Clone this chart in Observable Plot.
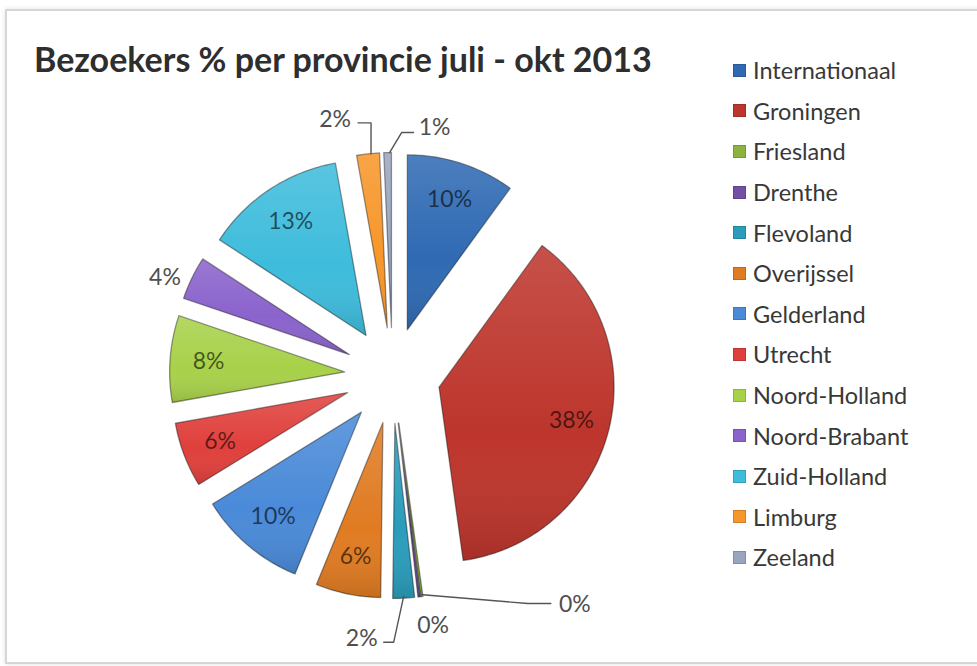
<!DOCTYPE html>
<html>
<head>
<meta charset="utf-8">
<script src="https://cdn.jsdelivr.net/npm/d3@7"></script>
<script src="https://cdn.jsdelivr.net/npm/@observablehq/plot@0.6"></script>
<style>
  body { margin: 0; background: #fff; font-family: Lato, "Open Sans", sans-serif; }
  #wrap { position: relative; width: 977px; height: 666px; overflow: hidden; background: #fff; }
  #frame { position: absolute; left: 5px; top: 9px; width: 1000px; height: 651px; border: 2px solid #d6d6d6; box-shadow: 0 0 5px rgba(0,0,0,0.12); }
  #chart { position: absolute; left: 0; top: 0; }
  #title { position: absolute; left: 34px; top: 42px; font: bold 34px Lato, sans-serif; color: #2e2e2e; white-space: nowrap; line-height: 1; }
  #legend { position: absolute; left: 733px; top: 50px; }
  .item { height: 40.6px; display: flex; align-items: center; font: 23.5px Lato, sans-serif; color: #383838; white-space: nowrap; }
  .sw { width: 13px; height: 13px; margin-right: 7px; box-shadow: inset 0 0 0 1px rgba(0,0,0,0.15); }
</style>
</head>
<body>
<div id="wrap">
  <div id="frame"></div>
  <div id="chart"></div>
  <div id="title"></div>
  <div id="legend"></div>
</div>
<script>
// ---- data ----
const chartTitle = "Bezoekers % per provincie juli - okt 2013";
const provinces = ["Internationaal", "Groningen", "Friesland", "Drenthe", "Flevoland", "Overijssel",
  "Gelderland", "Utrecht", "Noord-Holland", "Noord-Brabant", "Zuid-Holland", "Limburg", "Zeeland"];
const visitorShare = [10.0, 37.8, 0.2, 0.2, 2.0, 6.0, 10.0, 6.0, 8.0, 4.0, 13.0, 2.1, 0.7];
const sliceColors = ["#2f6ab3", "#bd352c", "#8cb33e", "#7350a6", "#2a9dbb", "#e07b22",
  "#4a8ad8", "#e0403c", "#a8d14a", "#8a63cc", "#3ebcdc", "#f7962a", "#9aa6c0"];

// ---- layout ----
const W = 977, H = 666, CX = 392, CY = 375, R = 175, EXPLODE = 48, LABEL_R = 0.78;
// outside labels: label centre offset (px) from slice outer-mid point, and leader polyline (px offsets)
const outsideLabels = {
  "Friesland":     {label: [153, 8],  leader: [[-2, -2], [106, 7], [129, 7]]},
  "Drenthe":       {label: [14, 29],  leader: null},
  "Flevoland":     {label: [-42, 40], leader: [[0, -2], [-10, 44], [-20, 44]]},
  "Noord-Brabant": {label: [-27, 0],  leader: null},
  "Limburg":       {label: [-33, -34], leader: [[3, 0], [3, -31], [-10, -31]]},
  "Zeeland":       {label: [47, -25], leader: [[2, 0], [14, -20], [26, -20]]}
};

const arcs = d3.pie().sort(null).value(d => d)(visitorShare);
const e = EXPLODE / R;
const slicePts = [], inLabels = [], outLabels = [], leaders = [];
arcs.forEach((a, i) => {
  const name = provinces[i];
  const mid = (a.startAngle + a.endAngle) / 2;
  const tx = e * Math.sin(mid), ty = e * Math.cos(mid);
  slicePts.push({name, x: tx, y: ty});
  const n = Math.max(2, Math.ceil((a.endAngle - a.startAngle) / (Math.PI / 180)));
  for (let k = 0; k <= n; k++) {
    const t = a.startAngle + (a.endAngle - a.startAngle) * k / n;
    slicePts.push({name, x: tx + Math.sin(t), y: ty + Math.cos(t)});
  }
  slicePts.push({name, x: tx, y: ty});
  const text = Math.round(visitorShare[i]) + "%";
  const o = outsideLabels[name];
  if (o) {
    const ox = tx + Math.sin(mid), oy = ty + Math.cos(mid);
    outLabels.push({name, text, x: ox + o.label[0] / R, y: oy - o.label[1] / R});
    if (o.leader) o.leader.forEach((p, j) => leaders.push({name, j, x: ox + p[0] / R, y: oy - p[1] / R}));
  } else {
    inLabels.push({name, text, x: tx + LABEL_R * Math.sin(mid), y: ty + LABEL_R * Math.cos(mid)});
  }
});

const plot = Plot.plot({
  width: W, height: H, margin: 0,
  style: {background: "transparent", fontFamily: "Lato, sans-serif"},
  x: {domain: [-CX / R, (W - CX) / R], axis: null},
  y: {domain: [-(H - CY) / R, CY / R], axis: null},
  color: {domain: provinces, range: sliceColors},
  marks: [
    Plot.line(slicePts, {x: "x", y: "y", z: "name", fill: "name", stroke: "rgba(0,0,0,0.4)", strokeWidth: 1.3, strokeLinejoin: "round"}),
    Plot.line(slicePts, {x: "x", y: "y", z: "name", fill: "url(#shine)", stroke: "none"}),
    Plot.line(leaders, {x: "x", y: "y", z: "name", stroke: "#555", strokeWidth: 1.4}),
    Plot.text(inLabels, {x: "x", y: "y", text: "text", fill: "black", fillOpacity: 0.6, fontSize: 23}),
    Plot.text(outLabels, {x: "x", y: "y", text: "text", fill: "#4f4f4f", fontSize: 23})
  ]
});
// gradient used as a subtle sheen on the slices
const defs = d3.select(plot).insert("defs", ":first-child");
const g = defs.append("linearGradient").attr("id", "shine").attr("x1", 0).attr("y1", 0).attr("x2", 0).attr("y2", 1);
g.append("stop").attr("offset", "0%").attr("stop-color", "#fff").attr("stop-opacity", 0.14);
g.append("stop").attr("offset", "60%").attr("stop-color", "#fff").attr("stop-opacity", 0.0);
g.append("stop").attr("offset", "100%").attr("stop-color", "#000").attr("stop-opacity", 0.12);
document.getElementById("chart").append(plot);

document.getElementById("title").textContent = chartTitle;
const legend = d3.select("#legend");
provinces.forEach((p, i) => {
  const it = legend.append("div").attr("class", "item");
  it.append("div").attr("class", "sw").style("background", sliceColors[i]);
  it.append("span").text(p);
});
</script>
</body>
</html>
